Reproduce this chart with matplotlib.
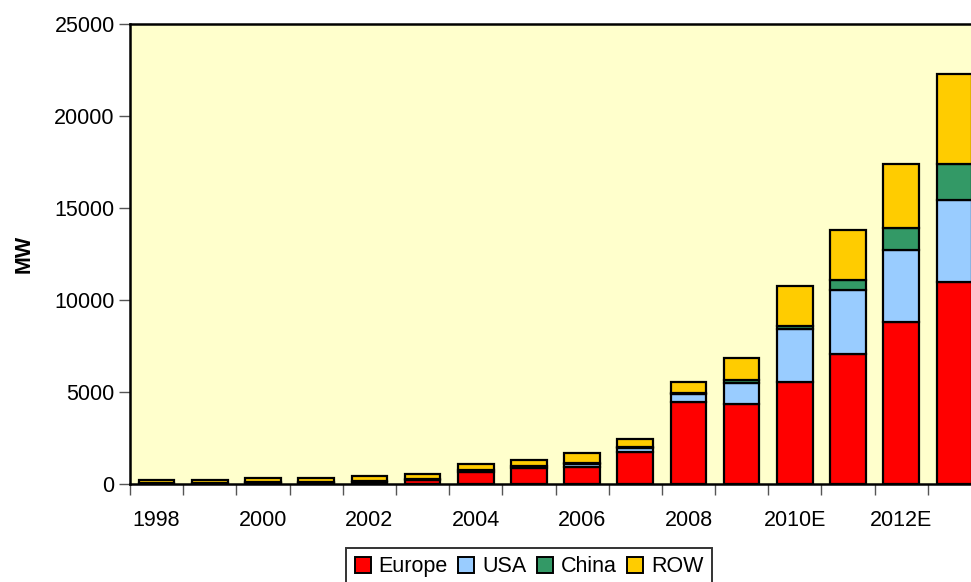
import numpy as np
import matplotlib
matplotlib.use("Agg")
import matplotlib.pyplot as plt

# ==== Dane (MW) ====
years = ["1998", "1999", "2000", "2001", "2002", "2003", "2004", "2005",
         "2006", "2007", "2008", "2009", "2010E", "2011E", "2012E", "2013E"]
europe = [30, 40, 60, 70, 110, 200, 650, 860, 950, 1720, 4470, 4350, 5540, 7070, 8800, 10980]
usa = [20, 20, 20, 30, 40, 60, 100, 110, 150, 260, 430, 1160, 2900, 3470, 3920, 4450]
china = [5, 5, 5, 5, 10, 10, 20, 10, 20, 20, 40, 150, 150, 550, 1210, 1960]
row = [145, 135, 215, 215, 270, 290, 300, 330, 550, 430, 620, 1210, 2170, 2710, 3460, 4890]

series = [("Europe", europe, "#FF0000"),
          ("USA", usa, "#99CCFF"),
          ("China", china, "#339966"),
          ("ROW", row, "#FFCC00")]

plt.rcParams["font.family"] = ["Liberation Sans", "DejaVu Sans"]
FS = 15.5

W, H = 971, 582
fig = plt.figure(figsize=(W / 100, H / 100), dpi=100)
ax = fig.add_axes([130 / W, 1 - 484 / H, 851 / W, 460 / H])
ax.set_facecolor("#FFFFCC")

x = np.arange(len(years))
bottom = np.zeros(len(years))
for name, vals, col in series:
    ax.bar(x, vals, width=0.67, bottom=bottom, color=col, edgecolor="black",
           linewidth=1.6, label=name, zorder=2)
    bottom += np.array(vals)

ax.set_xlim(-0.5, len(years) - 0.5)
ax.set_ylim(0, 25000)
ax.set_yticks(range(0, 25001, 5000))
ax.tick_params(axis="y", labelsize=FS, length=8, color="#555555", width=1, pad=3)

# ticks between categories, labels on every second year
ax.set_xticks(np.arange(-0.5, len(years), 1.0))
ax.set_xticklabels([])
ax.set_xticks(x[::2], minor=True)
ax.set_xticklabels(years[::2], minor=True)
ax.tick_params(axis="x", which="major", length=8, color="#555555", width=1)
ax.tick_params(axis="x", which="minor", length=0, labelsize=FS, pad=19)

for s in ax.spines.values():
    s.set_linewidth(1.8)
    s.set_color("black")

ax.set_ylabel("MW", fontsize=FS, fontweight="bold", labelpad=14)

leg = fig.legend(loc="upper center", bbox_to_anchor=(529 / W, 1 - 537 / H), ncol=4,
                 fontsize=FS, frameon=True, fancybox=False, edgecolor="black",
                 handlelength=0.75, handleheight=0.75, handletextpad=0.35,
                 columnspacing=0.5, borderpad=0.4)
leg.get_frame().set_linewidth(1.4)
for h in leg.legend_handles:
    h.set_linewidth(1.4)

fig.savefig("out.png", dpi=100)
